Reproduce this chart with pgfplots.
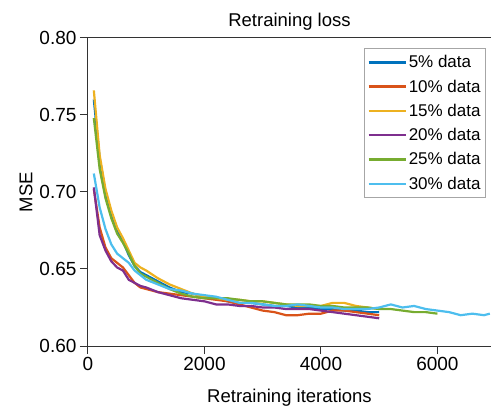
\documentclass[border=0pt]{standalone}
\usepackage{pgfplots}
\pgfplotsset{compat=1.18}
\usepackage{fontspec}
\setmainfont{Liberation Sans}
\definecolor{c1}{HTML}{0072BD}
\definecolor{c2}{HTML}{D95319}
\definecolor{c3}{HTML}{EDB120}
\definecolor{c4}{HTML}{7E2F8E}
\definecolor{c5}{HTML}{77AC30}
\definecolor{c6}{HTML}{4DBEEE}
\definecolor{ax}{HTML}{333333}
\begin{document}
\begin{tikzpicture}
\path[use as bounding box] (0,0) rectangle (491bp,411bp);
\begin{axis}[
  at={(88bp,65bp)}, anchor=south west,
  scale only axis, width=403bp, height=308bp,
  xmin=0, xmax=6920, ymin=0.60, ymax=0.80,
  xtick={0,2000,4000,6000}, ytick={0.60,0.65,0.70,0.75,0.80},
  yticklabel style={/pgf/number format/fixed,/pgf/number format/fixed zerofill,/pgf/number format/precision=2},
  xticklabel style={/pgf/number format/1000 sep={}},
  /pgf/number format/assume math mode=true,
  axis lines*=left, axis line style={ax, line width=1bp},
  tick align=outside, major tick length=8bp,
  tick style={ax, line width=1bp},
  xtick pos=left, ytick pos=left,
  tick label style={font=\fontsize{19bp}{22bp}\selectfont, text=black},
  title={Retraining loss}, title style={font=\fontsize{18.5bp}{22bp}\selectfont, yshift=-2bp},
  xlabel={Retraining iterations}, ylabel={MSE},
  label style={font=\fontsize{18.5bp}{22bp}\selectfont},
  xlabel style={yshift=-11bp},
  ylabel style={yshift=0bp},
  legend style={at={(1,1)}, anchor=north east, xshift=-5bp, yshift=-10bp,
    draw=gray!70, line width=0.8bp, font=\fontsize{17bp}{20bp}\selectfont,
    row sep=6.5bp, inner xsep=3bp, inner ysep=5bp},
  legend cell align=left,
  legend image post style={line width=2.5bp},
  legend image code/.code={\draw[#1] (0bp,0bp) -- (37bp,0bp);},
  every axis plot/.append style={line width=2.2bp, line join=round},
]
\addplot[c1] coordinates {(100,0.760)(200,0.722)(300,0.700)(400,0.686)(500,0.676)(600,0.668)(700,0.659)(800,0.652)(900,0.648)(1000,0.646)(1200,0.642)(1400,0.638)(1600,0.635)(1800,0.634)(2000,0.632)(2200,0.631)(2400,0.629)(2600,0.628)(2800,0.628)(3000,0.627)(3200,0.626)(3400,0.626)(3600,0.625)(3800,0.625)(4000,0.624)(4200,0.624)(4400,0.623)(4600,0.623)(4800,0.622)(5000,0.622)};
\addlegendentry{5\% data}
\addplot[c2] coordinates {(100,0.702)(200,0.677)(300,0.664)(400,0.657)(500,0.654)(600,0.651)(700,0.646)(800,0.641)(900,0.638)(1000,0.637)(1200,0.635)(1400,0.634)(1600,0.633)(1800,0.632)(2000,0.631)(2200,0.630)(2400,0.629)(2600,0.627)(2800,0.625)(3000,0.623)(3200,0.622)(3400,0.620)(3600,0.620)(3800,0.621)(4000,0.621)(4200,0.623)(4400,0.623)(4600,0.622)(4800,0.621)(5000,0.620)};
\addlegendentry{10\% data}
\addplot[c3] coordinates {(100,0.766)(200,0.724)(300,0.702)(400,0.688)(500,0.677)(600,0.670)(700,0.662)(800,0.654)(900,0.651)(1000,0.649)(1200,0.644)(1400,0.640)(1600,0.637)(1800,0.634)(2000,0.632)(2200,0.631)(2400,0.630)(2600,0.630)(2800,0.629)(3000,0.629)(3200,0.628)(3400,0.627)(3600,0.626)(3800,0.626)(4000,0.626)(4200,0.628)(4400,0.628)(4600,0.626)(4800,0.625)(5000,0.624)};
\addlegendentry{15\% data}
\addplot[c4] coordinates {(100,0.703)(200,0.672)(300,0.662)(400,0.655)(500,0.651)(600,0.649)(700,0.643)(800,0.641)(900,0.639)(1000,0.638)(1200,0.635)(1400,0.633)(1600,0.631)(1800,0.630)(2000,0.629)(2200,0.627)(2400,0.627)(2600,0.626)(2800,0.626)(3000,0.625)(3200,0.625)(3400,0.624)(3600,0.624)(3800,0.624)(4000,0.623)(4200,0.622)(4400,0.621)(4600,0.620)(4800,0.619)(5000,0.618)};
\addlegendentry{20\% data}
\addplot[c5] coordinates {(100,0.748)(200,0.715)(300,0.696)(400,0.683)(500,0.673)(600,0.667)(700,0.660)(800,0.652)(900,0.647)(1000,0.645)(1200,0.641)(1400,0.637)(1600,0.634)(1800,0.632)(2000,0.631)(2200,0.631)(2400,0.631)(2600,0.630)(2800,0.629)(3000,0.629)(3200,0.628)(3400,0.627)(3600,0.627)(3800,0.627)(4000,0.626)(4200,0.626)(4400,0.625)(4600,0.625)(4800,0.625)(5000,0.624)(5200,0.624)(5400,0.623)(5600,0.622)(5800,0.622)(6000,0.621)};
\addlegendentry{25\% data}
\addplot[c6] coordinates {(100,0.712)(200,0.690)(300,0.676)(400,0.666)(500,0.660)(600,0.657)(700,0.654)(800,0.649)(900,0.646)(1000,0.643)(1200,0.640)(1400,0.637)(1600,0.636)(1800,0.634)(2000,0.633)(2200,0.632)(2400,0.630)(2600,0.628)(2800,0.628)(3000,0.627)(3200,0.626)(3400,0.626)(3600,0.627)(3800,0.626)(4000,0.625)(4200,0.625)(4400,0.624)(4600,0.624)(4800,0.624)(5000,0.625)(5200,0.627)(5400,0.625)(5600,0.626)(5800,0.624)(6000,0.623)(6200,0.622)(6400,0.620)(6600,0.621)(6800,0.620)(6900,0.621)};
\addlegendentry{30\% data}
\draw[ax, line width=1bp] (rel axis cs:0,1) -- (rel axis cs:1,1);
\end{axis}
\end{tikzpicture}
\end{document}
